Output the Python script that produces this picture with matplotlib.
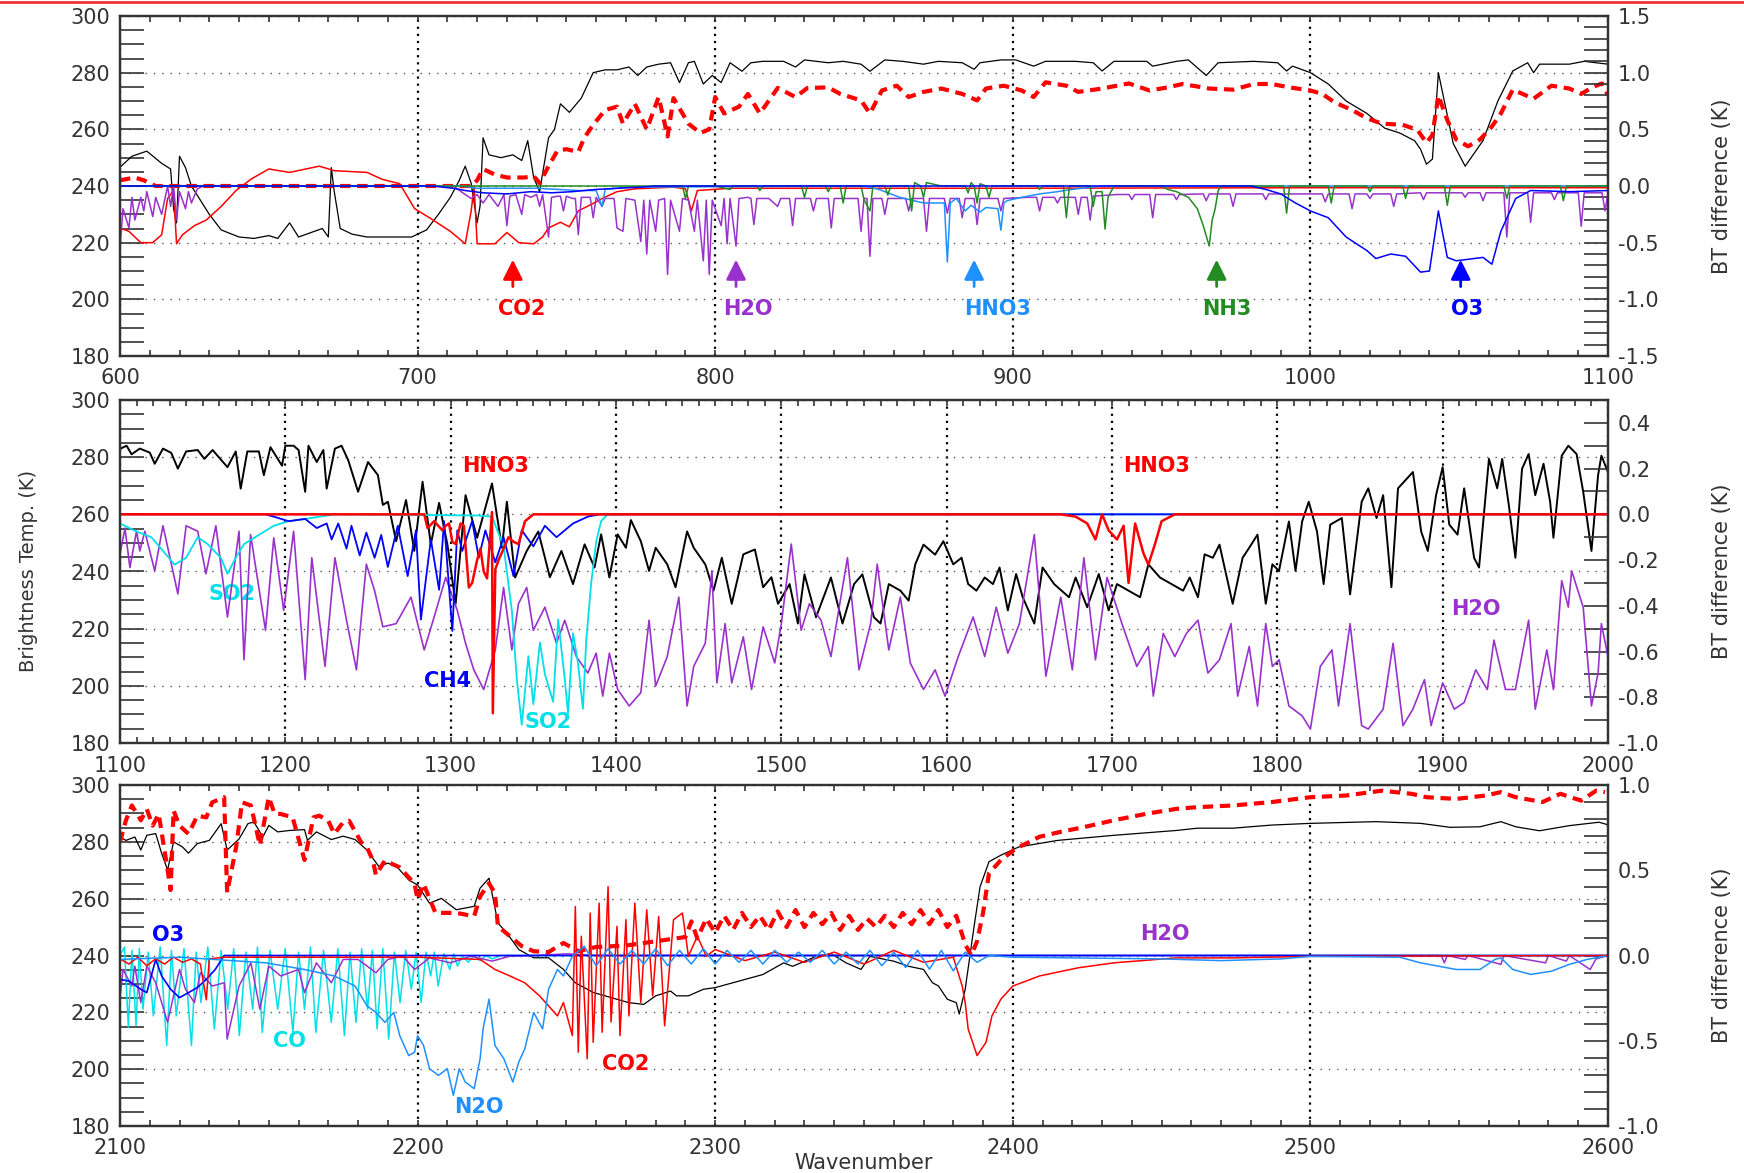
import matplotlib
matplotlib.use("Agg")
import matplotlib.pyplot as plt
from matplotlib.ticker import MultipleLocator, FormatStrFormatter
from matplotlib.lines import Line2D

# ---------------------------------------------------------------- panel 1 (600-1100)
# brightness temperatures (K), left axis
p1_bt_obs = [(600, 246.6), (604, 250.5), (609, 252.3), (614, 248), (617, 246), (618, 232), (619, 227),
             (620, 250.5), (622, 246.5), (624, 240), (627, 235), (630, 230), (634, 224.5), (640, 222),
             (645, 221.5), (650, 222.5), (653, 221.5), (657, 227), (660, 222), (664, 223.5), (668, 225),
             (670, 222), (671, 246.5), (672, 238), (674, 225), (678, 223), (683, 222), (690, 222), (698, 222),
             (703, 224.5), (707, 230), (711, 236), (714, 242), (716, 247), (718, 241), (720, 227), (721, 233),
             (722, 257), (724, 251), (728, 250), (732, 251), (735, 249), (737, 256), (739, 243), (741, 238),
             (744, 257), (746, 260), (748, 269), (751, 266), (755, 271), (759, 280), (763, 281), (767, 281),
             (771, 282), (774, 279), (777, 282), (781, 283), (785, 283.5), (788, 276.5), (791, 283.5),
             (793, 284), (796, 276), (799, 279), (802, 276.5), (805, 283.5), (809, 280.5), (812, 283.5),
             (816, 284), (823, 284), (827, 282), (830, 284.5), (838, 283.5), (843, 284), (849, 283),
             (852, 280.5), (857, 284.5), (863, 284), (870, 283), (875, 284), (883, 283.5), (887, 281.2),
             (889, 283.5), (896, 284.5), (901, 284.5), (907, 282.3), (911, 284), (921, 284), (927, 283.5),
             (930, 280.6), (934, 284), (945, 284), (947, 282.3), (955, 284), (959, 284.5), (965, 279),
             (969, 283.5), (981, 284), (989, 283.5), (992, 280.6), (994, 282.3), (1000, 280), (1006, 276),
             (1012, 270), (1019, 265.6), (1025, 260.4), (1030, 258.7), (1035, 256), (1037, 253), (1039, 247.7),
             (1041, 249.5), (1043, 280), (1045, 270), (1048, 255), (1052, 247), (1058, 256), (1063, 270),
             (1068, 280.6), (1073, 283.5), (1075, 280), (1077, 283), (1087, 283), (1092, 284), (1100, 283)]
p1_bt_calc = [(600, 242), (605, 243), (608, 242), (612, 240), (616, 240), (650, 240), (700, 240), (718, 240),
              (720, 242), (722, 246), (726, 244), (730, 243), (733, 243), (736, 243), (739, 243.5), (741, 241),
              (744, 247), (747, 252.5), (750, 253), (752, 252.5), (754, 252), (756, 257), (759, 261.6),
              (763, 266.8), (767, 268), (769, 262), (773, 269), (777, 260), (781, 271.4), (784, 257.5),
              (786, 271), (791, 262), (795, 258.7), (798, 260), (800, 271.4), (803, 265.6), (808, 268),
              (811, 272.5), (815, 265.6), (821, 274.6), (827, 271.4), (831, 274.6), (838, 274.8), (842, 272.5),
              (849, 270.2), (852, 265.6), (856, 273.7), (861, 275.4), (865, 271.4), (870, 273.2), (876, 274.4),
              (883, 272.5), (888, 270.2), (891, 274.4), (897, 275.4), (903, 273.7), (907, 271.4), (911, 276.6),
              (918, 275.4), (922, 273.2), (930, 274.4), (939, 276.2), (946, 273.7), (952, 274.8), (957, 276),
              (966, 274.4), (974, 274), (981, 276), (987, 276), (993, 274.8), (1000, 273.7), (1004, 272.5),
              (1008, 269.6), (1014, 266.8), (1019, 263.9), (1024, 262), (1031, 261.6), (1036, 259.8),
              (1039, 255.2), (1041, 258), (1043, 271.9), (1046, 263.3), (1049, 256.4), (1053, 254),
              (1057, 256.4), (1061, 261), (1064, 265.6), (1068, 274), (1075, 270.8), (1081, 275.4),
              (1087, 274.4), (1091, 272.5), (1095, 275), (1098, 276.2), (1100, 272)]
# BT differences (K), right axis
p1_co2 = [(600, -0.37), (603, -0.40), (607, -0.50), (611, -0.50), (614, -0.43), (616, -0.11), (618, -0.04),
          (619, -0.51), (621, -0.43), (625, -0.35), (629, -0.30), (634, -0.18), (639, -0.04), (644, 0.06),
          (650, 0.15), (657, 0.12), (667, 0.175), (672, 0.135), (683, 0.12), (688, 0.06), (694, 0.02),
          (699, -0.20), (704, -0.28), (711, -0.40), (716, -0.51), (718, -0.22), (719, 0.0), (720, -0.51),
          (726, -0.51), (730, -0.41), (734, -0.50), (739, -0.51), (742, -0.45), (744, -0.37), (748, -0.32),
          (751, -0.36), (754, -0.22), (760, -0.14), (762, -0.11), (767, -0.05), (773, -0.025), (786, -0.01),
          (790, -0.025), (792, -0.22), (794, -0.04), (805, -0.02), (900, -0.02), (1000, -0.015), (1100, -0.015)]
p1_h2o = [(600, -0.55), (601, -0.2), (603, -0.37), (604, -0.1), (605, -0.3), (607, -0.1), (608, -0.22),
          (609, -0.05), (611, -0.27), (612, -0.1), (614, -0.25), (616, 0.0), (617, -0.18), (618, 0.0),
          (619, -0.3), (620, -0.05), (622, -0.2), (623, -0.05), (624, -0.15), (626, -0.025), (628, 0.0),
          (712, 0.0), (716, -0.075), (718, -0.11), (720, -0.075), (722, -0.15), (724, -0.075), (727, -0.18),
          (729, -0.075), (730, -0.35), (731, -0.09), (733, -0.075), (735, -0.25), (736, -0.075), (738, -0.1),
          (740, -0.075), (741, -0.18), (742, -0.075), (744, -0.45), (745, -0.1), (747, -0.09), (748, -0.09),
          (749, -0.22), (750, -0.09), (752, -0.11), (753, -0.11), (754, -0.43), (755, -0.1), (757, -0.1),
          (758, -0.1), (759, -0.28), (760, -0.1), (762, -0.18), (763, -0.11), (766, -0.11), (767, -0.37),
          (769, -0.40), (770, -0.11), (773, -0.125), (775, -0.49), (776, -0.125), (777, -0.6), (778, -0.125),
          (780, -0.4), (781, -0.125), (783, -0.11), (784, -0.78), (785, -0.125), (788, -0.4), (789, -0.11),
          (791, -0.125), (793, -0.4), (794, -0.125), (796, -0.66), (797, -0.125), (798, -0.78), (799, -0.125),
          (802, -0.35), (803, -0.11), (804, -0.51), (805, -0.11), (807, -0.53), (808, -0.11), (811, -0.1),
          (812, -0.11), (813, -0.34), (814, -0.11), (818, -0.11), (821, -0.18), (822, -0.11), (825, -0.11),
          (826, -0.35), (827, -0.11), (832, -0.11), (833, -0.22), (834, -0.11), (838, -0.11), (839, -0.37),
          (840, -0.11), (845, -0.11), (848, -0.11), (849, -0.4), (850, -0.11), (851, -0.11), (852, -0.62),
          (853, -0.11), (856, -0.11), (857, -0.25), (858, -0.11), (864, -0.11), (865, -0.22), (866, -0.11),
          (870, -0.11), (871, -0.4), (872, -0.11), (877, -0.11), (878, -0.24), (879, -0.11), (882, -0.11),
          (883, -0.28), (884, -0.11), (887, -0.11), (888, -0.34), (889, -0.11), (895, -0.11), (896, -0.22),
          (897, -0.11), (905, -0.1), (908, -0.1), (909, -0.22), (910, -0.1), (914, -0.1), (915, -0.15),
          (916, -0.1), (921, -0.1), (922, -0.25), (923, -0.1), (925, -0.1), (926, -0.3), (927, -0.09),
          (935, -0.075), (939, -0.075), (940, -0.12), (941, -0.075), (946, -0.075), (947, -0.28),
          (948, -0.075), (954, -0.075), (955, -0.12), (956, -0.075), (964, -0.07), (965, -0.13), (966, -0.07),
          (973, -0.07), (974, -0.18), (975, -0.07), (984, -0.07), (985, -0.12), (986, -0.07), (1004, -0.07),
          (1005, -0.14), (1006, -0.07), (1013, -0.07), (1014, -0.2), (1015, -0.07), (1019, -0.07),
          (1020, -0.11), (1021, -0.07), (1027, -0.07), (1028, -0.18), (1029, -0.07), (1037, -0.06),
          (1038, -0.12), (1039, -0.06), (1051, -0.06), (1052, -0.1), (1053, -0.06), (1057, -0.06),
          (1058, -0.13), (1059, -0.06), (1065, -0.06), (1066, -0.45), (1067, -0.06), (1073, -0.06),
          (1074, -0.32), (1075, -0.06), (1081, -0.06), (1082, -0.12), (1083, -0.06), (1090, -0.06),
          (1091, -0.355), (1092, -0.06), (1098, -0.06), (1099, -0.22), (1100, -0.06)]
p1_hno3 = [(600, 0.0), (715, 0.0), (720, -0.02), (740, -0.02), (754, -0.04), (760, -0.04), (762, -0.18),
           (763, -0.03), (770, -0.01), (850, 0.0), (855, -0.03), (862, -0.1), (870, -0.15), (877, -0.15),
           (878, -0.67), (879, -0.15), (881, -0.11), (884, -0.22), (886, -0.17), (889, -0.23), (891, -0.19),
           (895, -0.2), (896, -0.39), (897, -0.15), (898, -0.13), (903, -0.1), (909, -0.07), (915, -0.05),
           (920, -0.03), (930, 0.0), (1100, 0.0)]
p1_nh3 = [(600, 0.0), (785, 0.0), (789, 0.0), (790, -0.11), (791, 0.0), (800, 0.0), (805, -0.03), (806, 0.0),
          (814, 0.0), (815, -0.04), (816, 0.0), (829, 0.0), (830, -0.1), (831, 0.0), (837, 0.0), (838, -0.05),
          (839, 0.0), (842, 0.0), (843, -0.15), (844, 0.0), (849, 0.0), (850, -0.12), (852, -0.22), (853, 0.0),
          (857, 0.0), (858, -0.08), (859, 0.0), (865, 0.0), (866, -0.22), (867, 0.03), (869, 0.0), (870, -0.1),
          (871, 0.03), (876, 0.0), (884, 0.0), (885, -0.06), (886, 0.03), (887, 0.0), (888, -0.15), (889, 0.02),
          (891, 0.0), (892, -0.1), (893, 0.0), (908, 0.0), (909, -0.03), (910, 0.0), (917, 0.0), (918, -0.28),
          (919, 0.0), (926, 0.0), (927, -0.18), (928, -0.05), (930, -0.05), (931, -0.38), (932, -0.1),
          (934, 0.0), (950, 0.0), (952, -0.03), (955, -0.05), (959, -0.1), (962, -0.2), (964, -0.35),
          (966, -0.53), (967, -0.3), (968, -0.2), (969, -0.04), (970, 0.0), (991, 0.0), (992, -0.24),
          (993, 0.0), (1006, 0.0), (1007, -0.15), (1008, 0.0), (1019, 0.0), (1020, -0.05), (1021, 0.0),
          (1031, 0.0), (1032, -0.11), (1033, 0.0), (1045, 0.0), (1046, -0.17), (1047, 0.0), (1065, 0.0),
          (1066, -0.11), (1067, 0.0), (1084, 0.0), (1085, -0.13), (1086, 0.0), (1100, 0.0)]
p1_o3 = [(600, 0.0), (705, 0.0), (712, -0.02), (716, -0.04), (722, -0.06), (730, -0.07), (738, -0.05),
         (745, -0.06), (752, -0.05), (760, -0.03), (775, -0.01), (780, 0.0), (980, 0.0), (985, -0.03),
         (990, -0.07), (995, -0.15), (1000, -0.22), (1006, -0.28), (1012, -0.45), (1019, -0.57),
         (1022, -0.64), (1027, -0.6), (1032, -0.62), (1037, -0.76), (1040, -0.75), (1042, -0.4),
         (1043, -0.22), (1046, -0.63), (1049, -0.66), (1055, -0.64), (1058, -0.63), (1061, -0.69),
         (1064, -0.4), (1069, -0.11), (1074, -0.04), (1087, -0.05), (1100, -0.04)]

# ---------------------------------------------------------------- panel 2 (1100-2000)
p2_bt_obs = [(1100, 282.9), (1104, 284), (1107, 281), (1112, 283), (1118, 281.6), (1121, 277.7), (1126, 283),
             (1131, 281.5), (1135, 276), (1140, 282), (1147, 282.5), (1151, 279.4), (1156, 282.5),
             (1165, 276.5), (1170, 282), (1173, 269), (1177, 282), (1184, 282), (1187, 273.7), (1191, 283.5),
             (1198, 277), (1200, 284), (1205, 284), (1208, 282.5), (1212, 267.9), (1214, 284), (1219, 278.3),
             (1223, 282.5), (1225, 269), (1230, 283), (1234, 284), (1238, 279), (1244, 267.9), (1250, 278.3),
             (1256, 273.7), (1259, 263.3), (1262, 264.4), (1267, 250.6), (1273, 265), (1278, 247.2),
             (1283, 271.4), (1288, 249.5), (1293, 264), (1298, 249.5), (1303, 228.7), (1309, 266.7),
             (1316, 251.8), (1325, 270.8), (1331, 248.3), (1334, 264.4), (1339, 237.9), (1346, 247.2),
             (1353, 254), (1360, 238), (1367, 247.2), (1374, 235.6), (1381, 249.5), (1387, 241.4),
             (1391, 253), (1396, 237.9), (1401, 253), (1406, 248.3), (1409, 258), (1415, 250.6),
             (1420, 240.2), (1424, 248.3), (1431, 242.5), (1436, 234.5), (1443, 254), (1447, 248.3),
             (1454, 242.5), (1459, 233.3), (1464, 244.8), (1470, 228.7), (1477, 246), (1484, 247.7),
             (1489, 234.5), (1494, 238), (1498, 228.7), (1505, 235.6), (1510, 221.8), (1514, 239), (1521, 224),
             (1530, 237.9), (1537, 221.8), (1544, 235.6), (1549, 239), (1556, 224), (1560, 221.8),
             (1565, 235.6), (1572, 233.3), (1577, 229.8), (1581, 242.5), (1586, 249.4), (1593, 245.9),
             (1598, 250.6), (1604, 242.5), (1609, 244.8), (1613, 235.6), (1618, 233.3), (1623, 237.9),
             (1628, 235.6), (1632, 241.4), (1637, 226.4), (1642, 239.1), (1646, 231), (1653, 221.8),
             (1658, 241.4), (1665, 235.6), (1674, 231), (1678, 237.9), (1685, 227.5), (1692, 239.1),
             (1698, 226.4), (1703, 235.6), (1710, 233.3), (1717, 231), (1722, 242.5), (1729, 237.9),
             (1736, 235.6), (1743, 233.3), (1747, 237.9), (1752, 231), (1756, 246), (1761, 244.8),
             (1765, 249.4), (1773, 228.7), (1779, 244.8), (1783, 248.3), (1788, 252.9), (1793, 228.7),
             (1797, 242.5), (1801, 240.2), (1807, 257.5), (1811, 240.2), (1815, 257.5), (1819, 264.4),
             (1824, 254), (1828, 235.6), (1832, 256.4), (1839, 258.7), (1844, 232), (1851, 264.4),
             (1855, 269.1), (1860, 258.7), (1864, 266.7), (1869, 234.5), (1873, 269.1), (1882, 274.8),
             (1887, 254), (1891, 247.2), (1896, 266.7), (1900, 276.5), (1904, 256.4), (1909, 252.9),
             (1913, 269.1), (1919, 244.8), (1922, 241.4), (1928, 279.4), (1933, 269.1), (1936, 279.4),
             (1940, 263.3), (1944, 244.8), (1948, 275.9), (1952, 281.1), (1956, 266.7), (1961, 277.7),
             (1965, 264.4), (1967, 251.8), (1972, 280.5), (1976, 284), (1981, 281.1), (1985, 267.9),
             (1990, 247.2), (1994, 273.7), (1996, 280.5), (2000, 274.8)]
p2_hno3 = [(1100, 0.0), (1284, 0.0), (1286, -0.06), (1290, -0.03), (1295, -0.07), (1297, -0.05), (1299, -0.04),
           (1301, -0.12), (1303, -0.13), (1306, -0.04), (1308, -0.05), (1311, -0.32), (1313, -0.3),
           (1316, -0.2), (1318, -0.15), (1320, -0.25), (1322, -0.28), (1325, 0.01), (1325.5, -0.87),
           (1327, -0.24), (1329, -0.2), (1332, -0.15), (1335, -0.1), (1338, -0.12), (1341, -0.13),
           (1343, -0.08), (1345, -0.03), (1350, 0.0), (1669, 0.0), (1678, -0.01), (1685, -0.04),
           (1690, -0.11), (1694, 0.0), (1698, -0.07), (1703, -0.11), (1707, -0.05), (1710, -0.3),
           (1714, -0.04), (1719, -0.17), (1722, -0.22), (1726, -0.13), (1730, -0.03), (1738, 0.0), (2000, 0.0)]
p2_ch4 = [(1100, 0.0), (1188, 0.0), (1193, -0.01), (1202, -0.03), (1212, -0.02), (1219, -0.06), (1225, -0.04),
          (1228, -0.11), (1232, -0.04), (1237, -0.15), (1240, -0.05), (1245, -0.18), (1249, -0.08),
          (1254, -0.19), (1258, -0.09), (1262, -0.23), (1268, -0.05), (1274, -0.27), (1279, -0.07),
          (1282, -0.46), (1288, -0.11), (1293, -0.33), (1296, -0.03), (1301, -0.51), (1304, -0.07),
          (1307, -0.16), (1313, -0.03), (1317, -0.19), (1321, -0.07), (1327, -0.21), (1332, -0.1),
          (1338, -0.27), (1343, -0.07), (1350, -0.14), (1357, -0.05), (1364, -0.1), (1374, -0.04),
          (1383, -0.01), (1390, 0.0), (2000, 0.0)]
p2_so2 = [(1100, -0.04), (1110, -0.075), (1119, -0.1), (1126, -0.16), (1133, -0.22), (1140, -0.19),
          (1147, -0.1), (1153, -0.13), (1161, -0.19), (1165, -0.26), (1170, -0.19), (1175, -0.13),
          (1184, -0.09), (1193, -0.05), (1202, -0.03), (1212, -0.02), (1230, 0.0), (1316, -0.005),
          (1325, -0.01), (1332, -0.14), (1337, -0.42), (1340, -0.72), (1343, -0.92), (1347, -0.62),
          (1350, -0.83), (1354, -0.56), (1357, -0.7), (1362, -0.82), (1365, -0.46), (1369, -0.72),
          (1371, -0.87), (1374, -0.52), (1377, -0.65), (1380, -0.85), (1382, -0.55), (1385, -0.3),
          (1388, -0.12), (1391, -0.03), (1395, 0.0), (2000, 0.0)]
p2_h2o = [(1100, -0.175), (1103, -0.06), (1106, -0.233), (1110, -0.074), (1112, -0.16), (1115, -0.074),
          (1121, -0.247), (1126, -0.05), (1135, -0.348), (1140, -0.05), (1147, -0.074), (1152, -0.26),
          (1158, -0.05), (1165, -0.449), (1172, -0.074), (1175, -0.636), (1179, -0.089), (1188, -0.507),
          (1193, -0.103), (1199, -0.42), (1205, -0.074), (1212, -0.723), (1216, -0.19), (1224, -0.665),
          (1230, -0.19), (1237, -0.463), (1243, -0.68), (1249, -0.218), (1254, -0.334), (1259, -0.492),
          (1267, -0.478), (1276, -0.362), (1284, -0.593), (1290, -0.449), (1297, -0.276), (1304, -0.42),
          (1309, -0.564), (1314, -0.68), (1320, -0.766), (1327, -0.593), (1332, -0.32), (1337, -0.593),
          (1341, -0.391), (1346, -0.32), (1350, -0.507), (1357, -0.406), (1364, -0.564), (1369, -0.463),
          (1376, -0.622), (1383, -0.694), (1388, -0.607), (1392, -0.795), (1396, -0.607), (1401, -0.766),
          (1408, -0.838), (1415, -0.78), (1420, -0.463), (1424, -0.751), (1431, -0.622), (1438, -0.362),
          (1443, -0.838), (1447, -0.665), (1454, -0.564), (1458, -0.247), (1461, -0.737), (1466, -0.478),
          (1470, -0.737), (1477, -0.536), (1482, -0.766), (1489, -0.492), (1496, -0.65), (1500, -0.478),
          (1506, -0.13), (1512, -0.507), (1517, -0.391), (1524, -0.463), (1530, -0.622), (1540, -0.19),
          (1547, -0.68), (1554, -0.478), (1558, -0.218), (1565, -0.593), (1572, -0.362), (1578, -0.65),
          (1586, -0.766), (1593, -0.68), (1599, -0.795), (1607, -0.622), (1616, -0.449), (1623, -0.622),
          (1630, -0.406), (1637, -0.607), (1644, -0.478), (1653, -0.089), (1660, -0.708), (1669, -0.362),
          (1676, -0.68), (1683, -0.19), (1690, -0.636), (1697, -0.276), (1706, -0.478), (1715, -0.665),
          (1722, -0.578), (1725, -0.795), (1731, -0.521), (1738, -0.622), (1745, -0.521), (1752, -0.463),
          (1758, -0.694), (1765, -0.636), (1772, -0.478), (1776, -0.795), (1783, -0.578), (1788, -0.838),
          (1793, -0.478), (1797, -0.665), (1801, -0.636), (1807, -0.838), (1815, -0.881), (1820, -0.939),
          (1826, -0.665), (1833, -0.593), (1837, -0.838), (1844, -0.478), (1851, -0.924), (1855, -0.939),
          (1864, -0.852), (1870, -0.564), (1876, -0.924), (1882, -0.852), (1889, -0.723), (1893, -0.924),
          (1900, -0.737), (1907, -0.852), (1913, -0.823), (1920, -0.68), (1927, -0.766), (1931, -0.55),
          (1938, -0.766), (1944, -0.766), (1952, -0.463), (1956, -0.852), (1963, -0.593), (1967, -0.766),
          (1972, -0.29), (1976, -0.406), (1978, -0.247), (1985, -0.406), (1990, -0.838), (1994, -0.694),
          (1996, -0.478), (2000, -0.622)]

# ---------------------------------------------------------------- panel 3 (2100-2600)
p3_bt_obs = [(2100, 281.7), (2102, 280.5), (2105, 281.7), (2107, 277.1), (2109, 282.3), (2112, 282.9),
             (2114, 275.9), (2116, 270.1), (2118, 280), (2121, 278.2), (2123, 276), (2126, 279.4),
             (2130, 280.5), (2134, 286.4), (2136, 277.1), (2140, 281), (2143, 286.4), (2145, 287),
             (2148, 281.7), (2150, 285.8), (2153, 283.5), (2157, 284), (2162, 284.3), (2163, 280.5),
             (2166, 283.5), (2171, 280.8), (2175, 282), (2179, 280.8), (2183, 277.1), (2187, 271.3),
             (2190, 272.5), (2193, 271.3), (2197, 266.6), (2200, 264.8), (2204, 258.4), (2208, 260.1),
             (2213, 256.1), (2219, 257.3), (2221, 263.7), (2224, 267.2), (2227, 251.4), (2230, 247.9),
             (2234, 242.1), (2239, 239.2), (2244, 239.2), (2249, 235.1), (2253, 230.4), (2259, 227),
             (2267, 224.6), (2271, 223.4), (2276, 222.8), (2280, 225.8), (2285, 227.5), (2287, 225.8),
             (2291, 225.8), (2296, 228.1), (2300, 228.7), (2308, 231), (2316, 233.3), (2323, 237.4),
             (2326, 236.2), (2334, 239.7), (2339, 240.6), (2344, 237.4), (2349, 235.1), (2352, 239.7),
             (2360, 238), (2365, 236.2), (2370, 235.1), (2373, 230.4), (2375, 229.3), (2378, 224.6),
             (2381, 223.4), (2382, 219.4), (2384, 228.1), (2387, 250.3), (2389, 264.2), (2392, 273),
             (2396, 275.3), (2402, 278.2), (2415, 280.5), (2434, 282.3), (2455, 284), (2462, 284.8),
             (2474, 284.8), (2487, 285.9), (2500, 286.5), (2522, 287.1), (2537, 286.5), (2547, 285.1),
             (2557, 285.3), (2564, 287.1), (2569, 285.3), (2577, 283.9), (2587, 285.7), (2597, 286.9),
             (2600, 286)]
p3_bt_calc = [(2100, 280), (2102, 287.6), (2104, 292.8), (2107, 287.6), (2109, 291.5), (2111, 285.7),
              (2113, 289.8), (2116, 270.1), (2117, 263), (2118, 291), (2120, 285.7), (2123, 282.8),
              (2126, 289.2), (2129, 288.6), (2131, 293.9), (2135, 295.7), (2136, 262.2), (2139, 278),
              (2141, 293.9), (2144, 292.8), (2147, 278.8), (2150, 295.7), (2152, 289.8), (2154, 289.8),
              (2158, 288.6), (2162, 273.6), (2165, 288.6), (2167, 289.2), (2170, 287.4), (2172, 282.8),
              (2175, 286.9), (2177, 287.4), (2181, 279.9), (2183, 278), (2185, 273.4), (2186, 268.3),
              (2189, 273.4), (2194, 271), (2199, 265.2), (2200, 259.6), (2202, 265.2), (2206, 255),
              (2213, 255), (2219, 253.8), (2221, 260.8), (2224, 265.4), (2226, 261.9), (2227, 250.3),
              (2231, 246.8), (2235, 243.3), (2239, 241.5), (2244, 241.2), (2249, 244.4), (2254, 241.5),
              (2260, 243), (2270, 243.5), (2280, 245), (2290, 246.5), (2292, 252), (2294, 246), (2297, 253),
              (2300, 248), (2303, 254), (2306, 249), (2309, 255), (2312, 250), (2315, 254), (2318, 249),
              (2321, 255.5), (2324, 250), (2327, 256), (2330, 250), (2333, 255), (2336, 251), (2339, 255),
              (2342, 249), (2345, 254), (2348, 249), (2351, 253), (2354, 250), (2357, 254), (2360, 250),
              (2363, 255), (2366, 251), (2369, 256), (2372, 251), (2375, 256), (2378, 250), (2381, 254),
              (2384, 244), (2386, 240), (2388, 245), (2390, 255), (2392, 268.9), (2396, 273.6),
              (2401, 277.6), (2409, 281.8), (2416, 283.5), (2424, 285.2), (2434, 287.6), (2445, 289.9),
              (2455, 291.6), (2462, 292.2), (2474, 292.8), (2487, 294), (2500, 295.7), (2512, 296.3),
              (2524, 298), (2534, 296.9), (2539, 295.7), (2549, 295.1), (2559, 296.3), (2564, 297.5),
              (2569, 295.7), (2578, 294), (2584, 296.9), (2591, 294.5), (2596, 298), (2599, 297.5)]
p3_co = [(2100, 0.0), (2101.5, 0.05), (2102.8, -0.42), (2104, 0.03), (2105.4, -0.41), (2106.5, 0.04),
         (2107.7, -0.315), (2109.5, 0.02), (2111.2, -0.354), (2113.5, 0.05), (2115.7, -0.528), (2117.3, 0.03),
         (2118.9, -0.354), (2121.5, 0.04), (2124, -0.528), (2125.6, 0.02), (2127.2, -0.276), (2129.5, 0.05),
         (2131.7, -0.431), (2134, 0.03), (2136.2, -0.315), (2138.2, 0.04), (2140.1, -0.47), (2142.3, 0.02),
         (2144.6, -0.315), (2146.2, 0.05), (2147.8, -0.451), (2150.4, 0.03), (2153, -0.315), (2155.5, 0.04),
         (2158.1, -0.451), (2160, 0.02), (2162, -0.315), (2164, 0.05), (2165.8, -0.451), (2168.4, 0.03),
         (2171, -0.392), (2173.2, 0.04), (2175.4, -0.47), (2177.3, 0.02), (2179.3, -0.392), (2181.2, 0.04),
         (2183.2, -0.315), (2184.8, 0.03), (2186.4, -0.431), (2188.3, 0.04), (2190.3, -0.49), (2192.2, 0.02),
         (2194.1, -0.276), (2196, 0.03), (2197.9, -0.198), (2199.5, 0.02), (2201.2, -0.276), (2202.8, 0.02),
         (2204.4, -0.12), (2205.6, 0.02), (2206.9, -0.179), (2208.8, 0.01), (2210.8, -0.082), (2212.1, 0.01),
         (2213.4, -0.062), (2215, 0.0), (2217, -0.04), (2219, 0.0), (2221, -0.03), (2223, 0.0),
         (2225, -0.02), (2228, 0.0), (2600, 0.0)]
p3_h2o = [(2100, -0.256), (2101, -0.082), (2104, -0.179), (2105, -0.062), (2107, -0.276), (2109, -0.062),
          (2112, -0.16), (2116, -0.392), (2120, -0.082), (2122, -0.198), (2125, -0.276), (2127, -0.101),
          (2131, -0.179), (2135, -0.16), (2136, -0.49), (2140, -0.179), (2144, -0.043), (2147, -0.315),
          (2150, -0.062), (2154, -0.12), (2160, -0.082), (2162, -0.218), (2166, -0.043), (2171, -0.16),
          (2175, -0.023), (2180, -0.023), (2186, -0.101), (2190, -0.023), (2195, -0.004), (2199, -0.082),
          (2204, -0.014), (2211, -0.043), (2218, -0.004), (2225, -0.033), (2231, -0.004), (2240, 0.0),
          (2250, 0.01), (2260, 0.0), (2544, 0.0), (2545, -0.043), (2546, 0.0), (2552, -0.023), (2553, 0.0),
          (2564, -0.052), (2565, 0.0), (2579, -0.043), (2580, 0.0), (2586, -0.033), (2587, 0.0),
          (2594, -0.082), (2596, -0.02), (2600, 0.0)]
p3_o3 = [(2100, -0.14), (2103, -0.15), (2107, -0.198), (2109, -0.218), (2112, -0.023), (2114, -0.12),
         (2117, -0.198), (2120, -0.247), (2123, -0.218), (2126, -0.188), (2129, -0.14), (2132, -0.082),
         (2135, 0.0), (2600, 0.0)]
p3_n2o = [(2100, -0.023), (2120, -0.01), (2149, -0.043), (2162, -0.082), (2172, -0.12), (2179, -0.179),
          (2183, -0.295), (2186, -0.334), (2189, -0.392), (2192, -0.334), (2194, -0.47), (2197, -0.587),
          (2199, -0.567), (2200, -0.47), (2202, -0.528), (2204, -0.664), (2207, -0.703), (2210, -0.664),
          (2212, -0.82), (2214, -0.664), (2216, -0.742), (2219, -0.781), (2221, -0.606), (2222, -0.431),
          (2224, -0.256), (2226, -0.528), (2229, -0.606), (2232, -0.742), (2234, -0.625), (2236, -0.548),
          (2239, -0.334), (2242, -0.431), (2244, -0.198), (2247, -0.082), (2249, -0.12), (2252, -0.004),
          (2256, 0.054), (2260, -0.06), (2264, 0.04), (2268, -0.05), (2272, 0.03), (2276, -0.05),
          (2280, 0.04), (2284, -0.06), (2288, 0.03), (2292, -0.05), (2296, 0.04), (2300, -0.05),
          (2304, 0.03), (2308, -0.04), (2312, 0.03), (2316, -0.05), (2320, 0.03), (2324, -0.04),
          (2328, 0.02), (2332, -0.04), (2336, 0.03), (2340, -0.05), (2344, 0.02), (2348, -0.05),
          (2352, 0.03), (2356, -0.06), (2360, 0.02), (2364, -0.07), (2368, 0.03), (2372, -0.08),
          (2376, 0.03), (2380, -0.09), (2384, 0.02), (2388, -0.04), (2392, 0.0), (2400, -0.01),
          (2450, -0.02), (2470, -0.03), (2490, -0.02), (2500, -0.005), (2530, -0.01), (2537, -0.043),
          (2549, -0.082), (2557, -0.082), (2562, -0.023), (2564, -0.014), (2568, -0.082), (2574, -0.111),
          (2581, -0.092), (2587, -0.052), (2593, -0.023), (2599, -0.004)]
p3_co2 = [(2100, -0.02), (2103, -0.05), (2106, -0.01), (2109, -0.06), (2112, -0.02), (2115, -0.05),
          (2118, -0.01), (2121, -0.04), (2124, -0.02), (2127, -0.05), (2129, -0.26), (2130, -0.02),
          (2135, -0.01), (2150, -0.01), (2200, -0.01), (2221, -0.023), (2226, -0.082), (2231, -0.12),
          (2236, -0.16), (2241, -0.237), (2247, -0.354), (2249, -0.276), (2252, -0.47), (2253, 0.287),
          (2254, -0.567), (2255, 0.113), (2257, -0.606), (2258, 0.249), (2259, -0.509), (2261, 0.307),
          (2262, -0.45), (2264, 0.404), (2265, -0.39), (2267, 0.171), (2268, -0.47), (2270, 0.21),
          (2271, -0.354), (2273, 0.307), (2275, -0.275), (2277, 0.268), (2279, -0.237), (2281, 0.229),
          (2283, -0.412), (2286, 0.21), (2289, 0.249), (2291, -0.004), (2294, 0.113), (2297, -0.004),
          (2300, 0.035), (2310, -0.03), (2320, 0.02), (2330, -0.04), (2340, 0.02), (2350, -0.05),
          (2360, 0.03), (2370, -0.04), (2380, -0.01), (2383, -0.179), (2384, -0.276), (2385, -0.431),
          (2388, -0.587), (2391, -0.509), (2393, -0.354), (2396, -0.256), (2400, -0.179), (2409, -0.12),
          (2422, -0.072), (2434, -0.043), (2455, -0.014), (2474, -0.014), (2500, -0.005), (2600, 0.0)]

RED = "#ff0000"
PURPLE = "#9932cc"
DODGER = "#1e90ff"
GREEN = "#228b22"
BLUE = "#0000ff"
CYAN = "#00e0e8"
AXCOL = "#333333"


def xy(pairs):
    xs, ys = zip(*pairs)
    return list(xs), list(ys)


def style_panel(ax, ax2, xlim, rlim, rticks):
    ax.set_xlim(*xlim)
    ax.set_ylim(180, 300)
    ax.xaxis.set_major_locator(MultipleLocator(100))
    ax.xaxis.set_minor_locator(MultipleLocator(10))
    ax.yaxis.set_major_locator(MultipleLocator(20))
    ax.yaxis.set_minor_locator(MultipleLocator(5))
    ax.tick_params(axis="x", which="both", direction="in", top=True, length=4, width=1.2,
                   color=AXCOL, labelsize=15, labelcolor=AXCOL, pad=9)
    ax.tick_params(axis="y", which="both", direction="in", length=17, width=1.2,
                   color=AXCOL, labelsize=15, labelcolor=AXCOL, pad=7)
    ax2.set_ylim(*rlim)
    ax2.set_yticks(rticks)
    ax2.yaxis.set_major_formatter(FormatStrFormatter("%.1f"))
    ax2.yaxis.set_minor_locator(MultipleLocator(0.1))
    ax2.tick_params(axis="y", which="both", direction="in", length=17, width=1.2,
                    color=AXCOL, labelsize=15, labelcolor=AXCOL, pad=7)
    ax.grid(axis="y", which="major", linestyle=(0, (1, 5)), color="#555555", lw=1.0)
    ax.grid(axis="x", which="major", linestyle=(0, (1, 2.2)), color="black", lw=1.6)
    for a in (ax, ax2):
        for s in a.spines.values():
            s.set_color(AXCOL)
            s.set_linewidth(1.6)


def label(ax, x, y, text, color):
    ax.text(x, y, text, color=color, fontsize=15, fontweight="bold", ha="center", va="center")


def arrow(ax, x, color):
    ax.annotate("", xy=(x, 214), xytext=(x, 204.5),
                arrowprops=dict(arrowstyle="-|>,head_width=0.6,head_length=1.2",
                                color=color, lw=2, shrinkA=0, shrinkB=0, mutation_scale=10))


fig = plt.figure(figsize=(17.44, 11.73), dpi=100)
left, width = 120 / 1744, 1488 / 1744

# ---- panel 1
ax = fig.add_axes([left, 1 - 356 / 1173, width, 340 / 1173])
ax2 = ax.twinx()
ax.plot(*xy(p1_bt_obs), color="black", lw=0.9, zorder=3)
ax.plot(*xy(p1_bt_calc), color=RED, lw=3, dashes=(2.5, 1.6), zorder=3)
ax2.plot(*xy(p1_co2), color=RED, lw=1.1)
ax2.plot(*xy(p1_h2o), color=PURPLE, lw=1.1)
ax2.plot(*xy(p1_hno3), color=DODGER, lw=1.1)
ax2.plot(*xy(p1_nh3), color=GREEN, lw=1.1)
ax2.plot(*xy(p1_o3), color=BLUE, lw=1.1)
style_panel(ax, ax2, (600, 1100), (-1.5, 1.5), [-1.5, -1.0, -0.5, 0.0, 0.5, 1.0, 1.5])
for x, lx, txt, c in [(732, 735, "CO2", RED), (807, 811, "H2O", PURPLE), (887, 895, "HNO3", DODGER),
                      (968.5, 972, "NH3", GREEN), (1050.5, 1052.5, "O3", BLUE)]:
    arrow(ax, x, c)
    label(ax, lx, 196.5, txt, c)

# ---- panel 2
ax = fig.add_axes([left, 1 - 743 / 1173, width, 343 / 1173])
ax2 = ax.twinx()
ax.plot(*xy(p2_bt_obs), color="black", lw=1.4, zorder=3)
ax2.plot(*xy(p2_h2o), color=PURPLE, lw=1.2)
ax2.plot(*xy(p2_so2), color=CYAN, lw=1.3)
ax2.plot(*xy(p2_ch4), color=BLUE, lw=1.3)
ax2.plot(*xy(p2_hno3), color=RED, lw=1.8)
style_panel(ax, ax2, (1100, 2000), (-1.0, 0.5), [-1.0, -0.8, -0.6, -0.4, -0.2, 0.0, 0.2, 0.4])
label(ax, 1327, 277, "HNO3", RED)
label(ax, 1727, 277, "HNO3", RED)
label(ax, 1168, 232, "SO2", CYAN)
label(ax, 1359, 187.5, "SO2", CYAN)
label(ax, 1298, 201.6, "CH4", BLUE)
label(ax, 1920, 227, "H2O", PURPLE)

# ---- panel 3
ax = fig.add_axes([left, 1 - 1126 / 1173, width, 341 / 1173])
ax2 = ax.twinx()
ax.plot(*xy(p3_bt_obs), color="black", lw=0.9, zorder=3)
ax.plot(*xy(p3_bt_calc), color=RED, lw=3, dashes=(2.5, 1.6), zorder=3)
ax2.plot(*xy(p3_co), color=CYAN, lw=1.1)
ax2.plot(*xy(p3_h2o), color=PURPLE, lw=1.1)
ax2.plot(*xy(p3_o3), color=BLUE, lw=1.2)
ax2.plot(*xy(p3_co2), color=RED, lw=1.1)
ax2.plot(*xy(p3_n2o), color=DODGER, lw=1.1)
style_panel(ax, ax2, (2100, 2600), (-1.0, 1.0), [-1.0, -0.5, 0.0, 0.5, 1.0])
label(ax, 2116, 247.3, "O3", BLUE)
label(ax, 2157, 210, "CO", CYAN)
label(ax, 2220.5, 186.7, "N2O", DODGER)
label(ax, 2270, 201.9, "CO2", RED)
label(ax, 2451, 247.6, "H2O", PURPLE)

# ---- figure-level labels
for yc in (1 - 186 / 1173, 1 - 571 / 1173, 1 - 955 / 1173):
    fig.text(1722 / 1744, yc, "BT difference (K)", rotation=90, ha="center", va="center",
             fontsize=15, color=AXCOL)
fig.text(28 / 1744, 1 - 571 / 1173, "Brightness Temp. (K)", rotation=90, ha="center", va="center",
         fontsize=14, color=AXCOL)
fig.text(864 / 1744, 1 - 1163 / 1173, "Wavenumber", ha="center", va="center", fontsize=15, color=AXCOL)
fig.add_artist(Line2D([0, 1], [0.9985, 0.9985], transform=fig.transFigure, color="#ee3333", lw=2))

fig.savefig("out.png", dpi=100)
